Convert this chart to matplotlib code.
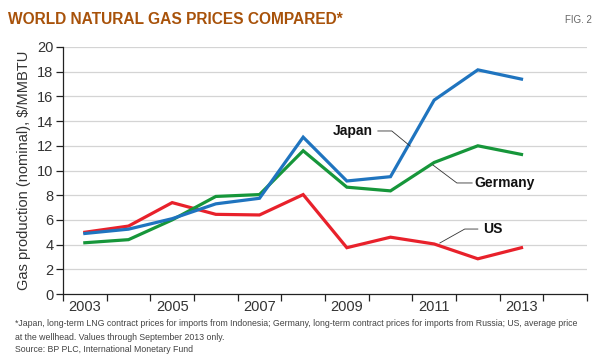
import matplotlib
matplotlib.use("Agg")
import matplotlib.pyplot as plt
import numpy as np

years = [2003, 2004, 2005, 2006, 2007, 2008, 2009, 2010, 2011, 2012, 2013]
japan = [4.9, 5.25, 6.1, 7.3, 7.75, 12.7, 9.15, 9.5, 15.7, 18.15, 17.4]
germany = [4.15, 4.4, 6.0, 7.9, 8.05, 11.6, 8.65, 8.35, 10.65, 12.0, 11.3]
us = [5.0, 5.5, 7.4, 6.45, 6.4, 8.05, 3.75, 4.6, 4.05, 2.85, 3.75]
year_labels = ["2003", "2005", "2007", "2009", "2011", "2013"]
yticks = [0, 2, 4, 6, 8, 10, 12, 14, 16, 18, 20]

title = "WORLD NATURAL GAS PRICES COMPARED*"
fig_label = "FIG. 2"
ylabel = "Gas production (nominal), $/MMBTU"
foot1 = ("*Japan, long-term LNG contract prices for imports from Indonesia; Germany, long-term contract "
         "prices for imports from Russia; US, average price")
foot2 = "at the wellhead. Values through September 2013 only."
foot3 = "Source: BP PLC, International Monetary Fund"

plain = ["Liberation Sans", "DejaVu Sans"]

fig = plt.figure(figsize=(6, 3.63), dpi=100)
ax = fig.add_axes([63/600, 1 - 294/363, (587-63)/600, (294-47)/363])

blue = "#1F74BF"
green = "#16963A"
red = "#E8212B"
ax.plot(years, us, color=red, lw=2.3, solid_joinstyle="miter", zorder=3)
ax.plot(years, germany, color=green, lw=2.3, solid_joinstyle="miter", zorder=4)
ax.plot(years, japan, color=blue, lw=2.3, solid_joinstyle="miter", zorder=5)

ax.set_xlim(2002.5, 2014.5)
ax.set_ylim(0, 20)
ax.set_yticks(yticks)
ax.set_yticklabels([str(v) for v in yticks], family=plain, fontsize=10.5, color="#333333")
ax.set_xticks(np.arange(2002.5, 2015, 1.0))
ax.set_xticklabels([])
ax.set_xticks([int(y) for y in year_labels], minor=True)
ax.set_xticklabels(year_labels, minor=True, family=plain, fontsize=10.5, color="#333333")
ax.tick_params(axis="x", which="minor", length=0, pad=4)
ax.tick_params(axis="x", which="major", length=5, width=0.9, color="#222222", direction="out")
ax.tick_params(axis="y", length=5, width=0.9, color="#222222", direction="out", pad=2)
for y in yticks[1:]:
    ax.axhline(y, color="#d4d4d4", lw=0.9, zorder=1)
for s in ["top", "right"]:
    ax.spines[s].set_visible(False)
for s in ["left", "bottom"]:
    ax.spines[s].set_color("#222222")
    ax.spines[s].set_linewidth(0.9)
ax.set_ylabel(ylabel, family=plain, fontsize=10.5, color="#333333", labelpad=4)

# annotations
lc = "#333333"
ax.plot([2009.71, 2010.03, 2010.45], [13.2, 13.2, 11.98], color=lc, lw=0.6, zorder=6)
ax.text(2009.6, 13.2, "Japan", ha="right", va="center", family=plain, fontsize=10,
        fontweight="bold", color="#111111")
ax.plot([2010.97, 2011.52, 2011.87], [10.45, 8.99, 8.99], color=lc, lw=0.6, zorder=6)
ax.text(2011.93, 8.99, "Germany", ha="left", va="center", family=plain, fontsize=10,
        fontweight="bold", color="#111111")
ax.plot([2011.13, 2011.7, 2012.0], [4.13, 5.26, 5.26], color=lc, lw=0.6, zorder=6)
ax.text(2012.12, 5.26, "US", ha="left", va="center", family=plain, fontsize=10,
        fontweight="bold", color="#111111")

fig.text(8/600, 1 - 20/363, title, ha="left", va="center", family=plain, fontsize=11.2,
         fontweight="bold", color="#A8520A")
fig.text(592/600, 1 - 20/363, fig_label, ha="right", va="center", family=plain, fontsize=7,
         color="#666666")
fs = 6.3
fig.text(15/600, 1 - 324/363, foot1, ha="left", va="center", family=plain, fontsize=fs, color="#444444")
fig.text(15/600, 1 - 337/363, foot2, ha="left", va="center", family=plain, fontsize=fs, color="#444444")
fig.text(15/600, 1 - 349/363, foot3, ha="left", va="center", family=plain, fontsize=fs, color="#444444")

fig.savefig("out.png", dpi=100)
